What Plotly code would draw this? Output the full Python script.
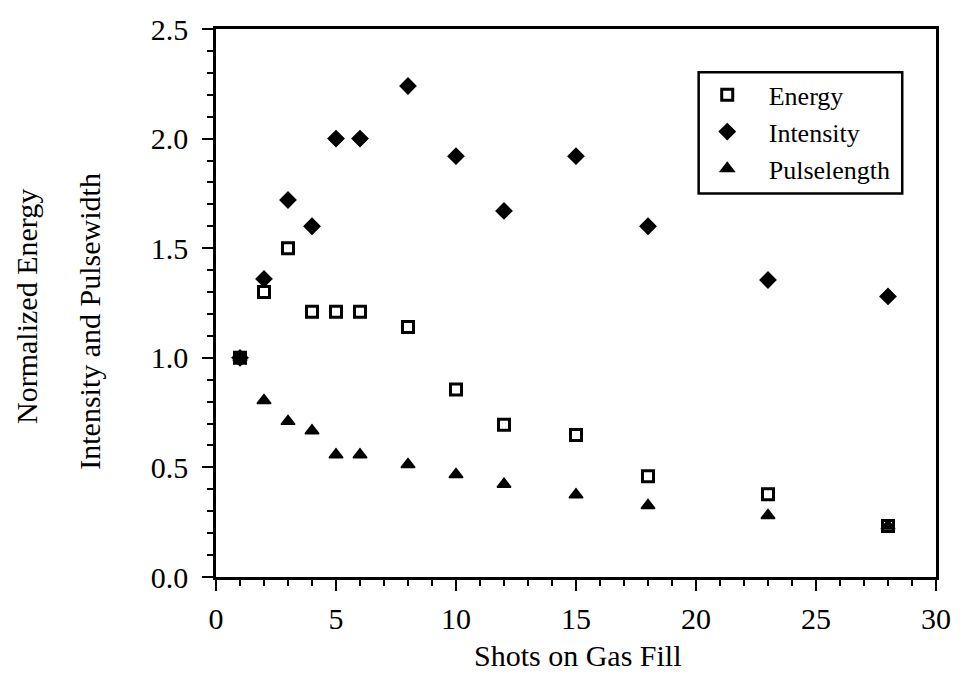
import plotly.graph_objects as go

# ---- data ----
shots = [1, 2, 3, 4, 5, 6, 8, 10, 12, 15, 18, 23, 28]
energy = [1.00, 1.30, 1.50, 1.21, 1.21, 1.21, 1.14, 0.855, 0.695, 0.648, 0.46, 0.378, 0.233]
intensity = [1.00, 1.36, 1.72, 1.60, 2.00, 2.00, 2.24, 1.92, 1.67, 1.92, 1.60, 1.355, 1.28]
pulselength = [1.00, 0.805, 0.71, 0.667, 0.558, 0.558, 0.513, 0.468, 0.423, 0.375, 0.326, 0.281, 0.233]

x_ticks = [0, 5, 10, 15, 20, 25, 30]
y_ticks = [0.0, 0.5, 1.0, 1.5, 2.0, 2.5]

x_title = "Shots on Gas Fill"
y_title_lines = ["Normalized Energy", "Intensity and Pulsewidth"]

FONT = "Liberation Serif"

fig = go.Figure()
fig.add_trace(go.Scatter(
    x=shots, y=energy, mode="markers", name="Energy",
    marker=dict(symbol="square", size=11, color="white",
                line=dict(color="black", width=3))))
fig.add_trace(go.Scatter(
    x=shots, y=intensity, mode="markers", name="Intensity",
    marker=dict(symbol="diamond", size=11, color="black",
                line=dict(color="black", width=2.5))))
fig.add_trace(go.Scatter(
    x=shots, y=pulselength, mode="markers", name="Pulselength",
    marker=dict(symbol="triangle-up", size=12, color="black",
                line=dict(color="black", width=1.5))))

L, R, T, B = 216, 22, 21, 121
W, H = 963, 698
pw, ph = W - L - R, H - T - B

def px_x(p):
    return (p - L) / pw

def px_y(p):
    return (H - B - p) / ph

axis_common = dict(
    showline=True, linecolor="black", linewidth=2.5, mirror=True,
    ticks="outside", tickcolor="black", tickwidth=2, ticklen=11,
    showgrid=False, zeroline=False,
    tickfont=dict(family=FONT, size=30, color="black"),
)

fig.update_xaxes(
    range=[0, 30], tickvals=x_ticks, ticktext=[str(v) for v in x_ticks],
    minor=dict(ticks="outside", dtick=1, ticklen=6, tickwidth=2, tickcolor="black"),
    ticklabelstandoff=2,
    **axis_common)
fig.update_yaxes(
    range=[0, 2.5], tickvals=y_ticks, ticktext=[f"{v:.1f}" for v in y_ticks],
    minor=dict(ticks="outside", dtick=0.1, ticklen=6, tickwidth=2, tickcolor="black"),
    ticklabelstandoff=8,
    **axis_common)

# x axis title
fig.add_annotation(text=x_title, xref="paper", yref="paper",
                   x=px_x(581), y=px_y(657), showarrow=False,
                   xanchor="center", yanchor="middle",
                   font=dict(family=FONT, size=30, color="black"))

# two-line y axis title
fig.add_annotation(text=y_title_lines[0], xref="paper", yref="paper",
                   x=0, y=px_y(303), xshift=27 - L, textangle=-90, showarrow=False,
                   xanchor="center", yanchor="middle",
                   font=dict(family=FONT, size=30, color="black"))
fig.add_annotation(text=y_title_lines[1], xref="paper", yref="paper",
                   x=0, y=px_y(318), xshift=90 - L, textangle=-90, showarrow=False,
                   xanchor="center", yanchor="middle",
                   font=dict(family=FONT, size=30, color="black"))

# legend frame
fig.add_shape(type="rect", xref="paper", yref="paper",
              x0=px_x(702), x1=px_x(907), y0=px_y(188), y1=px_y(65),
              line=dict(color="black", width=2.5), fillcolor="rgba(0,0,0,0)")

fig.update_layout(
    width=W, height=H,
    margin=dict(l=L, r=R, t=T, b=B),
    paper_bgcolor="white", plot_bgcolor="white",
    showlegend=True,
    legend=dict(x=px_x(689), y=px_y(64), xanchor="left", yanchor="top",
                bgcolor="rgba(0,0,0,0)", borderwidth=0,
                itemwidth=73,
                font=dict(family=FONT, size=26, color="black")),
)

fig.write_html("out.html")
